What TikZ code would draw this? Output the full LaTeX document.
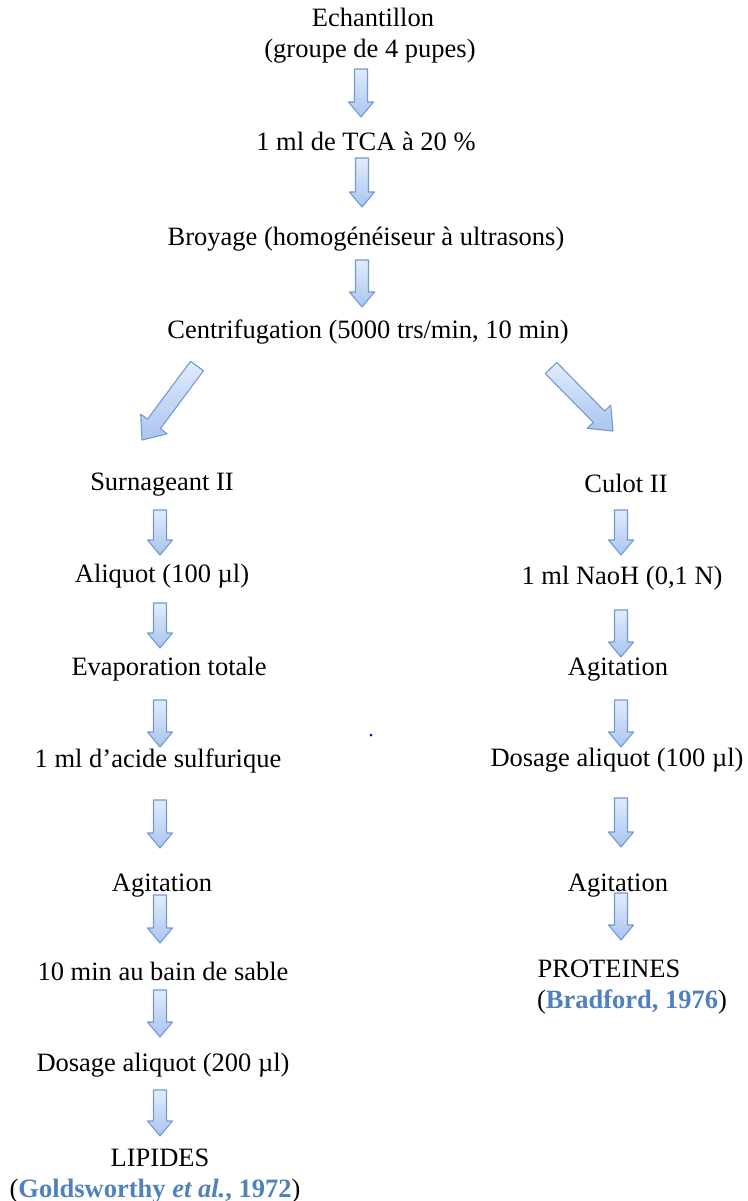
\documentclass[tikz,border=0pt]{standalone}
\usepackage{fontspec}
\setmainfont{Liberation Serif}
\usetikzlibrary{calc}
\definecolor{arrowline}{HTML}{7399D3}
\definecolor{arrowtop}{HTML}{E2EBFB}
\definecolor{arrowbot}{HTML}{A9C5F0}
\definecolor{citeblue}{HTML}{4F81BD}
\tikzset{
  lbl/.style={anchor=base, inner sep=0pt, font=\fontsize{26.5}{30}\selectfont},
  barrow/.style={draw=arrowline, line width=1.1pt, line join=round, top color=arrowtop, bottom color=arrowbot},
}
\newcommand{\RefCite}[1]{\textcolor{citeblue}{\textbf{#1}}}
% block arrow from tail #1 to tip #2 ; shaft half width #3, head half width #4, head length #5
\newcommand{\BlockArrow}[5]{%
  \coordinate (H) at ($(#2)!#5!(#1)$);
  \path[barrow] ($(#1)!#3!90:(#2)$) -- ($(H)!#3!-90:(#1)$) -- ($(H)!#4!-90:(#1)$) -- (#2)
     -- ($(H)!#4!90:(#1)$) -- ($(H)!#3!90:(#1)$) -- ($(#1)!#3!-90:(#2)$) -- cycle;}
\newcommand{\VArrow}[4]{% name, x, ytop, ytip
  \coordinate (#1t) at (#2,#3);
  \coordinate (#1p) at (#2,#4);
  \BlockArrow{#1t}{#1p}{6.5pt}{12.5pt}{15pt}}
\begin{document}
\begin{tikzpicture}[x=1pt,y=-1pt]
\useasboundingbox[fill=white] (0,0) rectangle (747,1201);
% top chain
\node[lbl] (ech) at (373,27) {Echantillon};
\node[lbl] (grp) at (370,58) {(groupe de 4 pupes)};
\node[lbl] (tca) at (366,151) {1 ml de TCA à 20 \%};
\node[lbl] (broy) at (366,245) {Broyage (homogénéiseur à ultrasons)};
\node[lbl] (centri) at (368,338) {Centrifugation (5000 trs/min, 10 min)};
% left column
\node[lbl] (surn) at (162,490) {Surnageant II};
\node[lbl] (aliq) at (162,582) {Aliquot (100 µl)};
\node[lbl] (evap) at (169,675) {Evaporation totale};
\node[lbl] (acid) at (158,767) {1 ml d’acide sulfurique};
\node[lbl] (agiL) at (162,891) {Agitation};
\node[lbl] (bain) at (163,980) {10 min au bain de sable};
\node[lbl] (dosL) at (163,1071) {Dosage aliquot (200 µl)};
\node[lbl] (lip) at (160,1166) {LIPIDES};
\node[lbl] (gold) at (155,1197) {(\RefCite{Goldsworthy \textit{et al.}, 1972})};
% right column
\node[lbl] (culot) at (626,492) {Culot II};
\node[lbl] (naoh) at (622,584) {1 ml NaoH (0,1 N)};
\node[lbl] (agiR1) at (618,675) {Agitation};
\node[lbl] (dosR) at (617,766) {Dosage aliquot (100 µl)};
\node[lbl] (agiR2) at (618,891) {Agitation};
\node[lbl] (prot) at (609,977) {PROTEINES};
\node[lbl] (brad) at (632,1008) {(\RefCite{Bradford, 1976})};
% arrows
\VArrow{a1}{361}{69}{117}
\VArrow{a2}{362}{158}{207}
\VArrow{a3}{362}{260}{307}
\coordinate (dlt) at (197,366);
\coordinate (dlp) at (142,440);
\BlockArrow{dlt}{dlp}{8pt}{16.5pt}{20pt}
\coordinate (drt) at (551,368);
\coordinate (drp) at (613,431);
\BlockArrow{drt}{drp}{8pt}{16.5pt}{20pt}
\VArrow{l1}{160}{510}{555}
\VArrow{l2}{160}{603}{648}
\VArrow{l3}{160}{700}{747}
\VArrow{l4}{160}{800}{848}
\VArrow{l5}{160}{895}{943}
\VArrow{l6}{160}{990}{1037}
\VArrow{l7}{160}{1090}{1136}
\VArrow{r1}{621}{510}{555}
\VArrow{r2}{621}{610}{657}
\VArrow{r3}{621}{700}{747}
\VArrow{r4}{621}{798}{847}
\VArrow{r5}{621}{893}{940}
% stray dot
\fill[blue] (371,735) circle (1.5pt);
\end{tikzpicture}
\end{document}
